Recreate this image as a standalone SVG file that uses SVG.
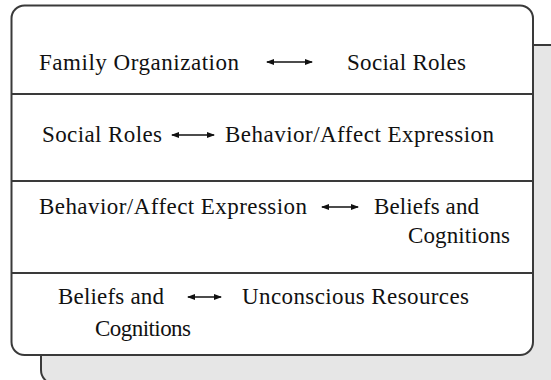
<svg xmlns="http://www.w3.org/2000/svg" width="551" height="380" viewBox="0 0 551 380">
<style>
  .t { font-family: "Liberation Serif", "Times New Roman", serif; font-size: 23px; fill: #111; }
  .frame { fill: #fff; stroke: #3a3a3a; stroke-width: 2; }
  .shadow { fill: #e6e6e6; stroke: #3a3a3a; stroke-width: 2; }
  .div { stroke: #3a3a3a; stroke-width: 2; }
  .arr { stroke: #111; stroke-width: 1.4; fill: none; marker-start: url(#ah); marker-end: url(#ah); }
</style>
<defs>
  <marker id="ah" viewBox="0 0 8 6" refX="7" refY="3" markerWidth="8" markerHeight="6" markerUnits="userSpaceOnUse" orient="auto-start-reverse">
    <path d="M0,0 L8,3 L0,6 Z" fill="#111"/>
  </marker>
</defs>
<g id="shadow">
  <rect class="shadow" x="41" y="45" width="540" height="339" rx="14"/>
</g>
<g id="frame">
  <rect class="frame" x="11.5" y="5.5" width="521.5" height="349.5" rx="13"/>
  <line class="div" x1="11.5" y1="94" x2="533" y2="94"/>
  <line class="div" x1="11.5" y1="181" x2="533" y2="181"/>
  <line class="div" x1="11.5" y1="273" x2="533" y2="273"/>
</g>
<g id="row1-family-organization"><text class="t" x="39" y="70" textLength="200" lengthAdjust="spacing">Family Organization</text></g>
<g id="row1-social-roles"><text class="t" x="347" y="70" textLength="119" lengthAdjust="spacing">Social Roles</text></g>
<g id="row2-social-roles"><text class="t" x="42" y="142" textLength="120" lengthAdjust="spacing">Social Roles</text></g>
<g id="row2-behavior"><text class="t" x="225" y="142" textLength="269" lengthAdjust="spacing">Behavior/Affect Expression</text></g>
<g id="row3-behavior"><text class="t" x="39" y="214" textLength="268" lengthAdjust="spacing">Behavior/Affect Expression</text></g>
<g id="row3-beliefs">
  <text class="t" x="374" y="214" textLength="105" lengthAdjust="spacing">Beliefs and</text>
  <text class="t" x="408" y="243" textLength="102" lengthAdjust="spacing">Cognitions</text>
</g>
<g id="row4-beliefs">
  <text class="t" x="58" y="304" textLength="106" lengthAdjust="spacing">Beliefs and</text>
  <text class="t" x="95" y="336" textLength="96" lengthAdjust="spacing">Cognitions</text>
</g>
<g id="row4-unconscious"><text class="t" x="242" y="304" textLength="227" lengthAdjust="spacing">Unconscious Resources</text></g>
<g id="connectors">
  <line class="arr" x1="267" y1="62" x2="312" y2="62"/>
  <line class="arr" x1="172" y1="135" x2="214" y2="135"/>
  <line class="arr" x1="322" y1="207" x2="358" y2="207"/>
  <line class="arr" x1="188" y1="297" x2="221" y2="297"/>
</g>
</svg>
